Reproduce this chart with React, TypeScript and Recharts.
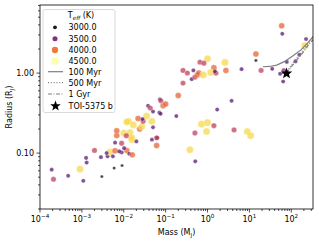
import React from 'react';
import { ScatterChart, Scatter, XAxis, YAxis } from 'recharts';

// planet / companion sample: mass (M_J), radius (R_J), host Teff (K)
const mass = [
  1.9e-4, 2.1e-4, 4.7e-4, 9.0e-4, 1.08e-3, 1.26e-3, 1.3e-3, 2.0e-3, 3.0e-3, 2.85e-3,
  4.1e-3, 4.7e-3, 5.9e-3, 9.1e-3, 6.2e-3, 6.2e-3, 6.8e-3, 6.8e-3, 0.0118, 0.0089,
  0.0135, 0.0089, 0.01, 0.0155, 0.013, 0.02, 0.024, 0.061, 0.063, 0.047,
  0.073, 0.077, 0.087, 0.038, 0.043, 0.071, 0.076, 0.035, 0.022, 0.0118,
  0.017, 0.027, 0.029, 0.014, 0.0155, 0.0115, 0.047, 0.061, 0.0102, 0.0039,
  0.0055, 0.0078, 0.016, 0.05, 0.028, 0.05, 0.1, 0.2, 0.26, 0.26,
  0.33, 0.46, 0.42, 0.5, 0.57, 0.62, 0.79, 1.0, 0.66, 0.82,
  1.42, 1.19, 1.59, 1.5, 2.6, 2.75, 6.5, 3.76, 1.7, 0.18,
  0.72, 1.0, 1.42, 0.5, 0.95, 4.3, 8.9, 10.7, 0.38, 0.51,
  59, 61, 14.3, 14.3, 19, 35, 78, 66, 64, 54,
  225, 211, 155, 126,
];
const radius = [
  0.062, 0.047, 0.052, 0.063, 0.045, 0.087, 0.076, 0.108, 0.051, 0.089,
  0.091, 0.103, 0.065, 0.07, 0.107, 0.135, 0.166, 0.19, 0.108, 0.102,
  0.098, 0.133, 0.178, 0.147, 0.25, 0.14, 0.2, 0.124, 0.155, 0.25,
  0.47, 0.45, 0.39, 0.39, 0.365, 0.32, 0.31, 0.29, 0.27, 0.245,
  0.225, 0.215, 0.25, 0.18, 0.155, 0.165, 0.147, 0.155, 0.115, 0.1,
  0.091, 0.105, 0.095, 0.33, 0.266, 0.21, 0.41, 0.525, 0.75, 1.08,
  1.0, 1.08, 0.84, 0.89, 0.95, 1.0, 0.95, 1.51, 1.37, 1.33,
  1.17, 1.02, 1.0, 1.05, 1.36, 1.08, 1.12, 0.45, 0.35, 0.29,
  0.23, 0.24, 0.22, 0.178, 0.186, 0.195, 0.186, 0.165, 0.11, 0.079,
  3.9, 3.1, 1.73, 1.44, 1.08, 1.13, 1.38, 1.08, 0.785, 0.98,
  2.66, 2.21, 1.69, 1.4,
];
const teff = [
  3350, 3750, 3350, 4350, 3350, 3350, 3350, 3750, 3000, 3350,
  3350, 4350, 3000, 3000, 3950, 3350, 3950, 3950, 3950, 3350,
  3350, 3750, 4350, 4350, 4350, 3350, 3950, 3950, 3350, 4350,
  3350, 3750, 3950, 3350, 3750, 3350, 3350, 4350, 3950, 4350,
  4350, 4350, 3750, 4350, 4350, 3750, 3350, 3750, 3350, 3350,
  3350, 3350, 3950, 3350, 3350, 3350, 3950, 3950, 3750, 3750,
  3750, 3350, 3350, 3750, 3950, 3950, 4350, 4350, 3750, 3750,
  3950, 4350, 3750, 3350, 4350, 3950, 3350, 3350, 3350, 3350,
  4350, 4350, 3750, 3750, 4350, 3750, 4350, 4350, 4350, 3350,
  3950, 3350, 3950, 3000, 3750, 3350, 3350, 3600, 3350, 3350,
  3350, 4350, 3350, 3350,
];

// evolutionary tracks
const track100Mass = [21, 30, 45, 70, 110, 170, 250, 340];
const track100Radius = [1.2, 1.21, 1.26, 1.4, 1.65, 1.95, 2.4, 2.9];
const track500Mass = [60, 77, 100, 150, 220, 340];
const track500Radius = [0.98, 1.02, 1.25, 1.65, 2.15, 2.85];
const track1GMass = [77, 100, 140, 200, 260, 340];
const track1GRadius = [0.99, 1.2, 1.5, 1.87, 2.26, 2.65];

const toiMass = [77];
const toiRadius = [0.99];

const xMajor = [1e-4, 1e-3, 1e-2, 1e-1, 1, 10, 100];
const yMajor = [0.01, 0.1, 1, 10];
const legendTeff = [3000, 3500, 4000, 4500];

const X_MAX = 330;
const Y_MIN = 0.02;
const Y_MAX = 7.1;
const withMinors = (majors: number[], lo: number, hi: number) =>
  majors.flatMap((m) => [1, 2, 3, 4, 5, 6, 7, 8, 9].map((k) => k * m)).filter((v) => v >= lo * 0.999 && v <= hi);
const xTicks = withMinors(xMajor, 1e-4, X_MAX);
const yTicks = withMinors(yMajor, Y_MIN, Y_MAX);

const points = mass.map((m, i) => ({ m, r: radius[i], t: teff[i] }));
const zip = (a: number[], b: number[]) => a.map((m, i) => ({ m, r: b[i] }));

const INFERNO = ['#000004', '#160b39', '#420a68', '#6a176e', '#932667', '#bc3754', '#dd513a', '#f37819', '#fca50a', '#f6d746', '#fcffa4'];
function inferno(t: number) {
  const c = Math.max(0, Math.min(1, t)) * 10;
  const i = Math.min(9, Math.floor(c));
  const f = c - i;
  const a = INFERNO[i], b = INFERNO[i + 1];
  const ch = (s: string, k: number) => parseInt(s.slice(1 + 2 * k, 3 + 2 * k), 16);
  const mix = [0, 1, 2].map((k) => Math.round(ch(a, k) + (ch(b, k) - ch(a, k)) * f));
  return `rgb(${mix.join(',')})`;
}
const norm = (t: number) => (t - 3000) / 1500;
const sizeOf = (t: number) => 1.6 + 2.2 * norm(t);

const FONT = 'DejaVu Sans';
const PL = 40, PR = 313, PT = 5, PB = 209;

const fmtExp = (e: number) => (e < 0 ? '\u2212' + -e : String(e));

const XTick = (props: any) => {
  const { x, payload } = props;
  const lv = Math.log10(payload.value);
  const e = Math.round(lv);
  const major = Math.abs(lv - e) < 1e-6;
  return (
    <g>
      <line x1={x} x2={x} y1={PB} y2={PB + (major ? 3.5 : 2)} stroke="#000" strokeWidth={0.7} />
      {major && (
        <text x={x} y={PB + 12.5} textAnchor="middle" fontSize={8} fontFamily={FONT} fill="#000">
          <tspan>10</tspan>
          <tspan dy={-3.5} fontSize={5.6}>{fmtExp(e)}</tspan>
        </text>
      )}
    </g>
  );
};

const YTick = (props: any) => {
  const { y, payload } = props;
  const lv = Math.log10(payload.value);
  const e = Math.round(lv);
  const major = Math.abs(lv - e) < 1e-6;
  return (
    <g>
      <line x1={PL} x2={PL - (major ? 3.5 : 2)} y1={y} y2={y} stroke="#000" strokeWidth={0.7} />
      {major && (
        <text x={PL - 6} y={y + 2.8} textAnchor="end" fontSize={8} fontFamily={FONT} fill="#000">
          {payload.value.toFixed(2)}
        </text>
      )}
    </g>
  );
};

const Dot = (props: any) => {
  const { cx, cy, payload } = props;
  if (cx == null || cy == null) return <g />;
  return (
    <circle cx={cx} cy={cy} r={sizeOf(payload.t)} fill={inferno(norm(payload.t))} fillOpacity={0.72} stroke="#fff" strokeWidth={0.3} />
  );
};

const starPath = (cx: number, cy: number, R: number) => {
  const pts: string[] = [];
  for (let i = 0; i < 10; i++) {
    const rr = i % 2 === 0 ? R : R * 0.42;
    const a = -Math.PI / 2 + (i * Math.PI) / 5;
    pts.push(`${cx + rr * Math.cos(a)},${cy + rr * Math.sin(a)}`);
  }
  return pts.join(' ');
};

const Star = (props: any) => {
  const { cx, cy } = props;
  if (cx == null) return <g />;
  return <polygon points={starPath(cx, cy, 6)} fill="#000" />;
};

const Nothing = () => <g />;

const lineStyle = { stroke: '#7f7f7f', strokeWidth: 1.2, fill: 'none' };

export default function App() {
  const legendY = [27.3, 38.7, 50, 61];
  return (
    <div style={{ position: 'absolute', left: 0, top: 0, width: 319, height: 241, background: '#fff' }}>
      <ScatterChart width={319} height={241} margin={{ top: PT, right: 319 - PR, bottom: 0, left: 0 }}>
        <XAxis
          dataKey="m"
          type="number"
          scale="log"
          domain={[1e-4, X_MAX]}
          allowDataOverflow
          ticks={xTicks}
          interval={0}
          tick={<XTick />}
          tickLine={false}
          axisLine={false}
          height={241 - PB}
        />
        <YAxis
          dataKey="r"
          type="number"
          scale="log"
          domain={[Y_MIN, Y_MAX]}
          allowDataOverflow
          ticks={yTicks}
          interval={0}
          tick={<YTick />}
          tickLine={false}
          axisLine={false}
          width={PL}
        />
        <Scatter data={points} shape={<Dot />} isAnimationActive={false} />
        <Scatter data={zip(track100Mass, track100Radius)} shape={<Nothing />} line={{ ...lineStyle }} isAnimationActive={false} />
        <Scatter data={zip(track500Mass, track500Radius)} shape={<Nothing />} line={{ ...lineStyle, strokeDasharray: '1 1.8' }} isAnimationActive={false} />
        <Scatter data={zip(track1GMass, track1GRadius)} shape={<Nothing />} line={{ ...lineStyle, strokeDasharray: '4 1.5 1 1.5' }} isAnimationActive={false} />
        <Scatter data={zip(toiMass, toiRadius)} shape={<Star />} isAnimationActive={false} />
      </ScatterChart>
      <svg width={319} height={241} style={{ position: 'absolute', left: 0, top: 0, pointerEvents: 'none' }} fontFamily={FONT}>
        <rect x={PL} y={PT} width={PR - PL} height={PB - PT} fill="none" stroke="#000" strokeWidth={0.8} />
        <text x={(PL + PR) / 2} y={235} textAnchor="middle" fontSize={8}>
          <tspan>Mass (M</tspan>
          <tspan dy={2} fontSize={5.6}>J</tspan>
          <tspan dy={-2}>)</tspan>
        </text>
        <text transform={`translate(11.5, ${(PT + PB) / 2}) rotate(-90)`} textAnchor="middle" fontSize={8}>
          <tspan>Radius (R</tspan>
          <tspan dy={2} fontSize={5.6}>J</tspan>
          <tspan dy={-2}>)</tspan>
        </text>
        <rect x={43} y={9.5} width={72} height={103} rx={2} fill="#fff" fillOpacity={0.8} stroke="#d0d0d0" strokeWidth={0.8} />
        <text x={81} y={18} textAnchor="middle" fontSize={8}>
          <tspan>T</tspan>
          <tspan dy={2} fontSize={5.6} fontStyle="italic">eff</tspan>
          <tspan dy={-2}> (K)</tspan>
        </text>
        {legendTeff.map((t, i) => (
          <g key={t}>
            <circle cx={55} cy={legendY[i]} r={1.9 + 1.9 * norm(t)} fill={inferno(norm(t))} fillOpacity={0.9} />
            <text x={68.5} y={legendY[i] + 2.8} fontSize={8}>{t.toFixed(1)}</text>
          </g>
        ))}
        <line x1={48} x2={63} y1={71.7} y2={71.7} {...lineStyle} />
        <text x={68.5} y={74.5} fontSize={8}>100 Myr</text>
        <line x1={48} x2={63} y1={82.7} y2={82.7} {...lineStyle} strokeDasharray="1 1.8" />
        <text x={68.5} y={85.5} fontSize={8}>500 Myr</text>
        <line x1={48} x2={63} y1={94} y2={94} {...lineStyle} strokeDasharray="4 1.5 1 1.5" />
        <text x={68.5} y={96.8} fontSize={8}>1 Gyr</text>
        <polygon points={starPath(55.5, 106, 5.5)} fill="#000" />
        <text x={68.5} y={108.8} fontSize={8}>TOI-5375 b</text>
      </svg>
    </div>
  );
}
